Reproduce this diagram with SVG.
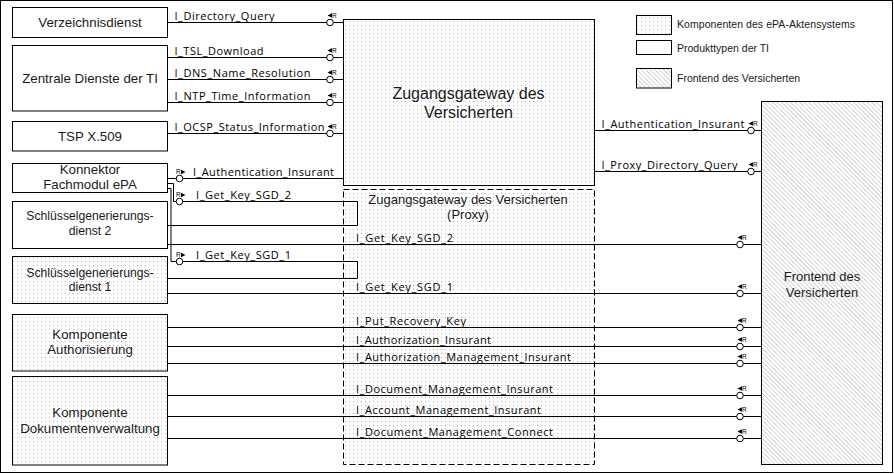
<svg xmlns="http://www.w3.org/2000/svg" width="894" height="474" viewBox="0 0 894 474">
<defs>
<pattern id="dots" width="4" height="4" patternUnits="userSpaceOnUse"><rect width="4" height="4" fill="#fff"/><rect x="1" y="1" width="1" height="1" fill="#b4b4b4"/></pattern>
<pattern id="hatch" width="4.5" height="4.5" patternUnits="userSpaceOnUse"><rect width="4.5" height="4.5" fill="#fff"/><path d="M-1,-1 L5.5,5.5 M-1,3.5 L1,5.5 M3.5,-1 L5.5,1" stroke="#9a9a9a" stroke-width="0.6"/></pattern>
<style>
.box{stroke:#000;stroke-width:1}
.w{fill:#fff}
.d{fill:url(#dots)}
.h{fill:url(#hatch)}
.dash{stroke-dasharray:6 3}
.nt{font-family:"Liberation Sans",Arial,sans-serif;font-size:13.3px;fill:#1a1a1a;text-anchor:middle}
.sm{font-size:12.2px}
.big{font-family:"Liberation Sans",Arial,sans-serif;font-size:16px;fill:#1a1a1a;text-anchor:middle}
.mid{font-family:"Liberation Sans",Arial,sans-serif;font-size:13px;fill:#1a1a1a;text-anchor:middle}
.lg{font-family:"Liberation Sans",Arial,sans-serif;font-size:10.5px;fill:#1a1a1a}
.il{font-family:"Open Sans","Liberation Sans",sans-serif;font-size:11px;fill:#000}
.ln{fill:none;stroke:#000;stroke-width:1}
.c{fill:#fff;stroke:#000;stroke-width:1}
.r{font-family:"Liberation Sans",Arial,sans-serif;font-size:6.5px;fill:#000}
.tri{fill:#000}
</style>
</defs>
<rect x="0.5" y="0.5" width="892" height="472" fill="#fff" stroke="#000" stroke-width="1"/>

<g id="legend">
<rect class="box d" x="636.5" y="15.5" width="35" height="19"/>
<text class="lg" x="677" y="28.3" textLength="178">Komponenten des ePA-Aktensystems</text>
<rect class="box w" x="636.5" y="40.5" width="35" height="14"/>
<text class="lg" x="677" y="51.7">Produkttypen der TI</text>
<rect class="box h" x="636.5" y="68.5" width="35" height="19.5"/>
<text class="lg" x="677" y="82.3">Frontend des Versicherten</text>
</g>

<g id="verzeichnisdienst"><rect class="box w" x="12.5" y="7.5" width="155" height="30"/><text class="nt" x="90" y="27">Verzeichnisdienst</text></g>
<g id="zentrale-dienste"><rect class="box w" x="12.5" y="45.5" width="155" height="65.5"/><text class="nt" x="90" y="83">Zentrale Dienste der TI</text></g>
<g id="tsp"><rect class="box w" x="12.5" y="121.5" width="155" height="29.5"/><text class="nt" x="90" y="140.5">TSP X.509</text></g>
<g id="konnektor"><rect class="box w" x="12.5" y="163.5" width="155" height="29"/><text class="nt" x="90" y="174">Konnektor</text><text class="nt" x="90" y="189">Fachmodul ePA</text></g>
<g id="sgd2"><rect class="box w" x="12.5" y="201.5" width="155" height="47"/><text class="nt sm" x="90" y="220">Schlüsselgenerierungs-</text><text class="nt sm" x="90" y="235">dienst 2</text></g>
<g id="sgd1"><rect class="box d" x="12.5" y="256.5" width="155" height="47"/><text class="nt sm" x="90" y="277">Schlüsselgenerierungs-</text><text class="nt sm" x="90" y="291">dienst 1</text></g>
<g id="authorisierung"><rect class="box d" x="12.5" y="314.5" width="155" height="56.5"/><text class="nt" x="90" y="338.5">Komponente</text><text class="nt" x="90" y="354">Authorisierung</text></g>
<g id="dokumentenverwaltung"><rect class="box d" x="12.5" y="376.5" width="155" height="88.5"/><text class="nt" x="90" y="417">Komponente</text><text class="nt" x="90" y="433">Dokumentenverwaltung</text></g>
<g id="gateway"><rect class="box d" x="343.5" y="19.5" width="251" height="166"/><text class="big" x="468.5" y="99">Zugangsgateway des</text><text class="big" x="468.5" y="117.5">Versicherten</text></g>
<g id="proxy"><rect class="box d dash" x="343.5" y="189.5" width="251" height="275"/><text class="mid" x="468" y="204">Zugangsgateway des Versicherten</text><text class="mid" x="468" y="219">(Proxy)</text></g>
<g id="frontend"><rect class="box h" x="761.5" y="101.5" width="121" height="363"/><text class="mid" x="822" y="280.5">Frontend des</text><text class="mid" x="822" y="296.5">Versicherten</text></g>

<g id="connectors">
<path class="ln" d="M167.5,22.5H343.5 M167.5,57.5H343.5 M167.5,79.5H343.5 M167.5,102.5H343.5 M167.5,133.5H343.5 M167.5,178.5H343.5"/>
<path class="ln" d="M594.5,130.5H761.5 M594.5,171.5H761.5"/>
<path class="ln" d="M167.5,183.5H173.5V201.5H357.5V225.5H167.5"/>
<path class="ln" d="M167.5,188.5H171V261.5H357.5V278.5H167.5"/>
<path class="ln" d="M167.5,244.5H761.5 M167.5,293.5H761.5 M167.5,327.5H761.5 M167.5,346.5H761.5 M167.5,363.5H761.5 M167.5,395.5H761.5 M167.5,416.5H761.5 M167.5,438.5H761.5"/>

<text class="il" x="174.5" y="19.5" textLength="100">I_Directory_Query</text>
<text class="il" x="174.5" y="54.5" textLength="89">I_TSL_Download</text>
<text class="il" x="174.5" y="76.5" textLength="136">I_DNS_Name_Resolution</text>
<text class="il" x="174.5" y="99.5" textLength="136">I_NTP_Time_Information</text>
<text class="il" x="174.5" y="130.5" textLength="150">I_OCSP_Status_Information</text>
<text class="il" x="193" y="175.5" textLength="141">I_Authentication_Insurant</text>
<text class="il" x="196" y="198.5" textLength="95">I_Get_Key_SGD_2</text>
<text class="il" x="196" y="258.5" textLength="95">I_Get_Key_SGD_1</text>
<text class="il" x="601.5" y="127.5" textLength="143">I_Authentication_Insurant</text>
<text class="il" x="601.5" y="168.5" textLength="136">I_Proxy_Directory_Query</text>
<text class="il" x="356" y="241.5" textLength="97">I_Get_Key_SGD_2</text>
<text class="il" x="356" y="290.5" textLength="97">I_Get_Key_SGD_1</text>
<text class="il" x="356" y="324.5" textLength="110">I_Put_Recovery_Key</text>
<text class="il" x="356" y="343.5" textLength="135">I_Authorization_Insurant</text>
<text class="il" x="356" y="360.5" textLength="215">I_Authorization_Management_Insurant</text>
<text class="il" x="356" y="392.5" textLength="197">I_Document_Management_Insurant</text>
<text class="il" x="356" y="413.5" textLength="185">I_Account_Management_Insurant</text>
<text class="il" x="356" y="435.5" textLength="197">I_Document_Management_Connect</text>

<g id="sockets-left">
<circle class="c" cx="330" cy="22.5" r="3.3"/><polygon class="tri" points="327.5,15.5 332,13.3 332,17.7"/><text class="r" x="332" y="18">R</text>
<circle class="c" cx="330" cy="57.5" r="3.3"/><polygon class="tri" points="327.5,50.5 332,48.3 332,52.7"/><text class="r" x="332" y="53">R</text>
<circle class="c" cx="330" cy="79.5" r="3.3"/><polygon class="tri" points="327.5,72.5 332,70.3 332,74.7"/><text class="r" x="332" y="75">R</text>
<circle class="c" cx="330" cy="102.5" r="3.3"/><polygon class="tri" points="327.5,95.5 332,93.3 332,97.7"/><text class="r" x="332" y="98">R</text>
<circle class="c" cx="330" cy="133.5" r="3.3"/><polygon class="tri" points="327.5,126.5 332,124.3 332,128.7"/><text class="r" x="332" y="129">R</text>
</g>
<g id="sockets-konnektor">
<circle class="c" cx="179.5" cy="178.5" r="3.3"/><text class="r" x="176" y="174">R</text><polygon class="tri" points="181,169.8 181,174.2 185.5,172"/>
<circle class="c" cx="179.5" cy="201.5" r="3.3"/><text class="r" x="176" y="197">R</text><polygon class="tri" points="181,192.8 181,197.2 185.5,195"/>
<circle class="c" cx="179.5" cy="261.5" r="3.3"/><text class="r" x="176" y="257">R</text><polygon class="tri" points="181,252.8 181,257.2 185.5,255"/>
</g>
<g id="sockets-right">
<circle class="c" cx="751" cy="130.5" r="3.3"/><polygon class="tri" points="748.5,123.5 753,121.3 753,125.7"/><text class="r" x="753" y="126">R</text>
<circle class="c" cx="751" cy="171.5" r="3.3"/><polygon class="tri" points="748.5,164.5 753,162.3 753,166.7"/><text class="r" x="753" y="167">R</text>
<circle class="c" cx="740" cy="244.5" r="3.3"/><polygon class="tri" points="737.5,237.5 742,235.3 742,239.7"/><text class="r" x="742" y="240">R</text>
<circle class="c" cx="740" cy="293.5" r="3.3"/><polygon class="tri" points="737.5,286.5 742,284.3 742,288.7"/><text class="r" x="742" y="289">R</text>
<circle class="c" cx="740" cy="327.5" r="3.3"/><polygon class="tri" points="737.5,320.5 742,318.3 742,322.7"/><text class="r" x="742" y="323">R</text>
<circle class="c" cx="740" cy="346.5" r="3.3"/><polygon class="tri" points="737.5,339.5 742,337.3 742,341.7"/><text class="r" x="742" y="342">R</text>
<circle class="c" cx="740" cy="363.5" r="3.3"/><polygon class="tri" points="737.5,356.5 742,354.3 742,358.7"/><text class="r" x="742" y="359">R</text>
<circle class="c" cx="740" cy="395.5" r="3.3"/><polygon class="tri" points="737.5,388.5 742,386.3 742,390.7"/><text class="r" x="742" y="391">R</text>
<circle class="c" cx="740" cy="416.5" r="3.3"/><polygon class="tri" points="737.5,409.5 742,407.3 742,411.7"/><text class="r" x="742" y="412">R</text>
<circle class="c" cx="740" cy="438.5" r="3.3"/><polygon class="tri" points="737.5,431.5 742,429.3 742,433.7"/><text class="r" x="742" y="434">R</text>
</g>
</g>
</svg>
